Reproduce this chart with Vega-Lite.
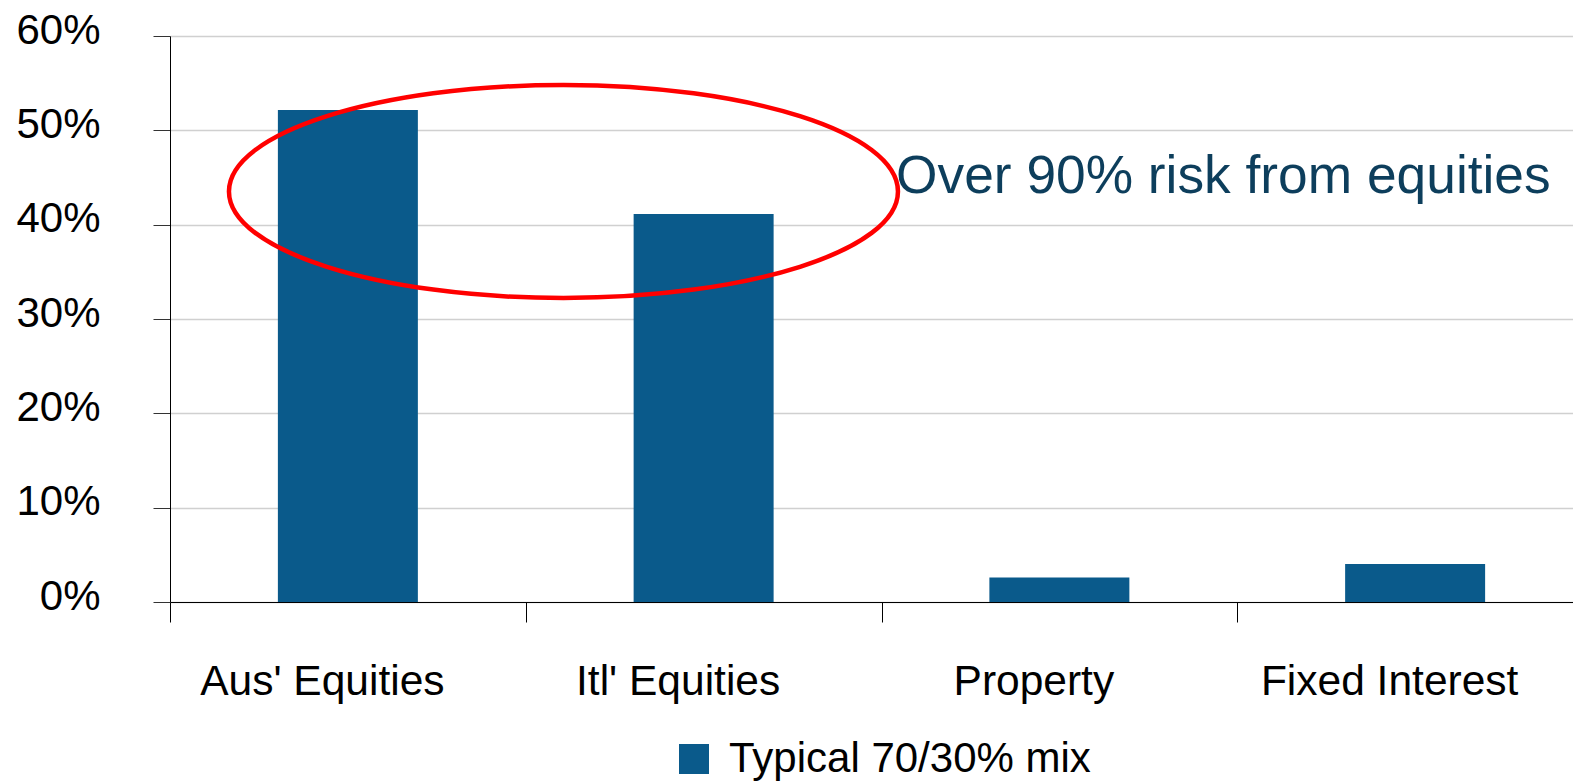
{
  "$schema": "https://vega.github.io/schema/vega-lite/v6.json",
  "width": 1403,
  "height": 566,
  "autosize": {"type": "none"},
  "padding": {"left": 170, "top": 36, "right": 0, "bottom": 179},
  "background": "white",
  "config": {"view": {"stroke": null}, "font": "Liberation Sans"},
  "datasets": {
    "bars": [
      {"asset": "Aus' Equities", "share": 0.5216, "series": "Typical 70/30% mix"},
      {"asset": "Itl' Equities", "share": 0.4113, "series": "Typical 70/30% mix"},
      {"asset": "Property", "share": 0.026, "series": "Typical 70/30% mix"},
      {"asset": "Fixed Interest", "share": 0.0403, "series": "Typical 70/30% mix"}
    ],
    "ellipse": [{"xpos": 1.106, "ypos": 0.4352}],
    "note": [{"xpos": 2.041, "ypos": 0.4336, "label": "Over 90% risk from equities"}]
  },
  "layer": [
    {
      "data": {"name": "bars"},
      "mark": {"type": "bar", "width": {"band": 0.3935}},
      "encoding": {
        "x": {
          "field": "asset", "type": "nominal", "sort": null,
          "scale": {"range": [0, 1423], "paddingInner": 0, "paddingOuter": 0},
          "axis": {
            "title": null, "labelAngle": 0, "labelFontSize": 42.5, "labelColor": "black",
            "labelPadding": 38, "labelOffset": -26, "tickSize": 20, "tickColor": "black",
            "tickBand": "extent", "domainColor": "black", "domainWidth": 1.2, "grid": false,
            "labelFont": "Liberation Sans", "labelLimit": 0
          }
        },
        "y": {
          "field": "share", "type": "quantitative",
          "scale": {"domain": [0, 0.6], "nice": false},
          "axis": {
            "title": null, "values": [0, 0.1, 0.2, 0.3, 0.4, 0.5, 0.6], "format": ".0%",
            "labelFontSize": 42, "labelColor": "black", "labelPadding": 53, "labelOffset": -6,
            "labelFlush": false, "labelOverlap": false, "tickSize": 17, "tickColor": "#333333",
            "domainColor": "black", "gridColor": "#d0d0d0", "gridWidth": 1.5,
            "labelFont": "Liberation Sans"
          }
        },
        "color": {
          "field": "series", "type": "nominal",
          "scale": {"range": ["#0a5a8b"]},
          "legend": {
            "orient": "none", "legendX": 503, "legendY": 702, "title": null,
            "symbolType": "square", "symbolSize": 900, "symbolStrokeWidth": 0,
            "labelFontSize": 42, "labelColor": "black", "labelOffset": 14, "padding": 0,
            "labelLimit": 0, "labelFont": "Liberation Sans"
          }
        }
      }
    },
    {
      "data": {"name": "ellipse"},
      "mark": {
        "type": "point",
        "shape": "M-1,0A1,0.3184,0,1,1,1,0A1,0.3184,0,1,1,-1,0Z",
        "size": 447561, "filled": false, "fill": null, "stroke": "#ff0000",
        "strokeWidth": 4.5, "opacity": 1, "strokeOpacity": 1
      },
      "encoding": {
        "x": {"field": "xpos", "type": "quantitative", "scale": {"domain": [0, 4], "range": [0, 1423], "nice": false, "zero": false}, "axis": null},
        "y": {"field": "ypos", "type": "quantitative", "scale": {"domain": [0, 0.6], "nice": false}}
      }
    },
    {
      "data": {"name": "note"},
      "mark": {
        "type": "text", "align": "left", "baseline": "alphabetic",
        "fontSize": 53.3, "color": "#0d3e5c", "font": "Liberation Sans"
      },
      "encoding": {
        "x": {"field": "xpos", "type": "quantitative", "scale": {"domain": [0, 4], "range": [0, 1423], "nice": false, "zero": false}, "axis": null},
        "y": {"field": "ypos", "type": "quantitative", "scale": {"domain": [0, 0.6], "nice": false}},
        "text": {"field": "label", "type": "nominal"}
      }
    }
  ],
  "resolve": {"scale": {"x": "independent"}}
}
